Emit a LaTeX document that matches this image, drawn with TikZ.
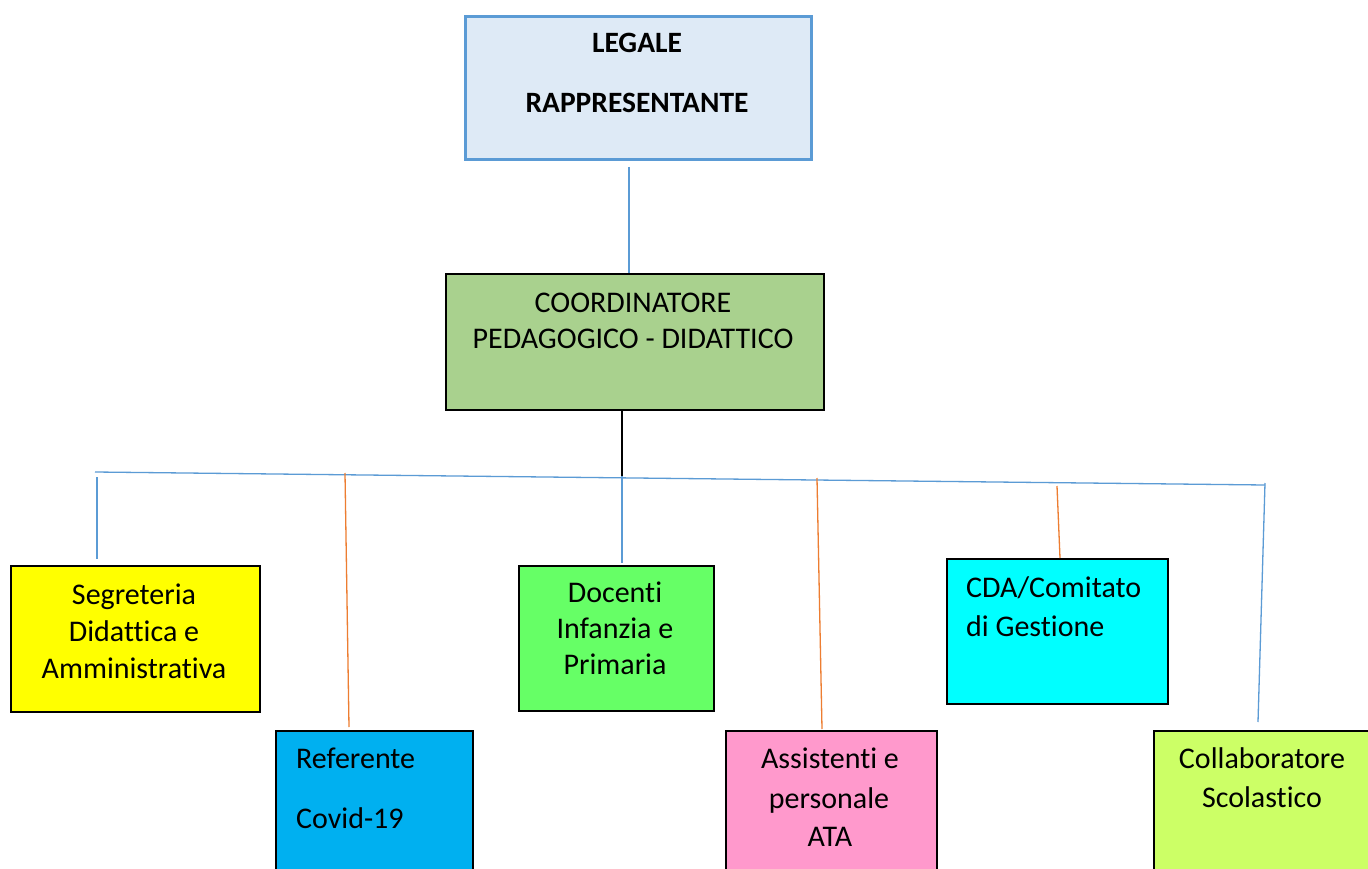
\documentclass[tikz,border=0pt]{standalone}
\usepackage{fontspec}
\setmainfont{Carlito}[Ligatures=NoCommon]
\begin{document}
\begin{tikzpicture}[x=1pt,y=-1pt,
  box/.style={draw=black, line width=1.8pt, inner sep=0pt, anchor=north west},
  lbl/.style={inner sep=0pt, anchor=base, font=\fontsize{30}{36}\selectfont},
  lblL/.style={inner sep=0pt, anchor=base west, font=\fontsize{30}{36}\selectfont},
  bline/.style={draw=linkblue, line width=1.3pt},
  oline/.style={draw=linkorange, line width=1.3pt},
]
\definecolor{linkblue}{HTML}{5B9BD5}
\definecolor{linkorange}{HTML}{ED7D31}
\definecolor{legfill}{HTML}{DEEAF6}
\definecolor{coordfill}{HTML}{A9D18E}
\definecolor{segfill}{HTML}{FFFF00}
\definecolor{reffill}{HTML}{00B0F0}
\definecolor{docfill}{HTML}{66FF66}
\definecolor{assfill}{HTML}{FF99CC}
\definecolor{cdafill}{HTML}{00FFFF}
\definecolor{colfill}{HTML}{CCFF66}
\clip (0,0) rectangle (1368,869);
\fill[white] (0,0) rectangle (1368,869);

% boxes
\node[box, draw=linkblue, line width=3pt, fill=legfill, minimum width=346pt, minimum height=143pt] (leg) at (464,15) {};
\node[box, fill=coordfill, minimum width=378pt, minimum height=136pt] (coord) at (445,273) {};
\node[box, fill=segfill, minimum width=249pt, minimum height=146pt] (seg) at (10,565) {};
\node[box, fill=reffill, minimum width=197pt, minimum height=160pt] (ref) at (275,730) {};
\node[box, fill=docfill, minimum width=195pt, minimum height=145pt] (doc) at (518,565) {};
\node[box, fill=assfill, minimum width=211pt, minimum height=160pt] (ass) at (725,730) {};
\node[box, fill=cdafill, minimum width=221pt, minimum height=145pt] (cda) at (946,558) {};
\node[box, fill=colfill, minimum width=230pt, minimum height=160pt] (col) at (1153,730) {};

% texts
\node[lbl, font=\fontsize{29.5}{34}\bfseries] (t1) at (637,53) {LEGALE};
\node[lbl, font=\fontsize{29.5}{34}\bfseries] (t2) at (637,113) {RAPPRESENTANTE};
\node[lbl] (t3) at (633,312) {COORDINATORE};
\node[lbl] (t4) at (633,348) {PEDAGOGICO - DIDATTICO};
\node[lbl] (t5) at (134,604) {Segreteria};
\node[lbl] (t6) at (134,641) {Didattica e};
\node[lbl] (t7) at (134,678) {Amministrativa};
\node[lblL] (t8) at (296,768) {Referente};
\node[lblL] (t9) at (296,828) {Covid-19};
\node[lbl] (t10) at (615,602) {Docenti};
\node[lbl] (t11) at (615,638) {Infanzia e};
\node[lbl] (t12) at (615,674) {Primaria};
\node[lbl] (t13) at (830,768) {Assistenti e};
\node[lbl] (t14) at (829,808) {personale};
\node[lbl] (t15) at (830,846) {ATA};
\node[lblL] (t16) at (966,597) {CDA/Comitato};
\node[lblL] (t17) at (966,636) {di Gestione};
\node[lbl] (t18) at (1262,768) {Collaboratore};
\node[lbl] (t19) at (1262,807) {Scolastico};

% coordinates of connector ends
\coordinate (hL) at (95,472);
\coordinate (hR) at (1265,485);
\coordinate (legdrop) at (629,167);
\coordinate (jn) at (622,476);
\coordinate (s1) at (97,477);
\coordinate (s1e) at (97,559);
\coordinate (s2) at (345,473);
\coordinate (s2e) at (349,727);
\coordinate (s3) at (622,476);
\coordinate (s3e) at (622,563);
\coordinate (s4) at (817,478);
\coordinate (s4e) at (822,729);
\coordinate (s5) at (1057,486);
\coordinate (s6) at (1265,483);
\coordinate (s6e) at (1258,722);

% connectors
\draw[bline] (legdrop) -- (legdrop |- coord.north);
\draw[black, line width=1.3pt] (coord.south -| jn) -- (jn);
\draw[bline] (hL) -- (hR);
\draw[bline] (s1) -- (s1e);
\draw[oline] (s2) -- (s2e);
\draw[bline] (s3) -- (s3e);
\draw[oline] (s4) -- (s4e);
\draw[oline] (s5) -- (cda.north -| 1060,0);
\draw[bline] (s6) -- (s6e);
\end{tikzpicture}
\end{document}
